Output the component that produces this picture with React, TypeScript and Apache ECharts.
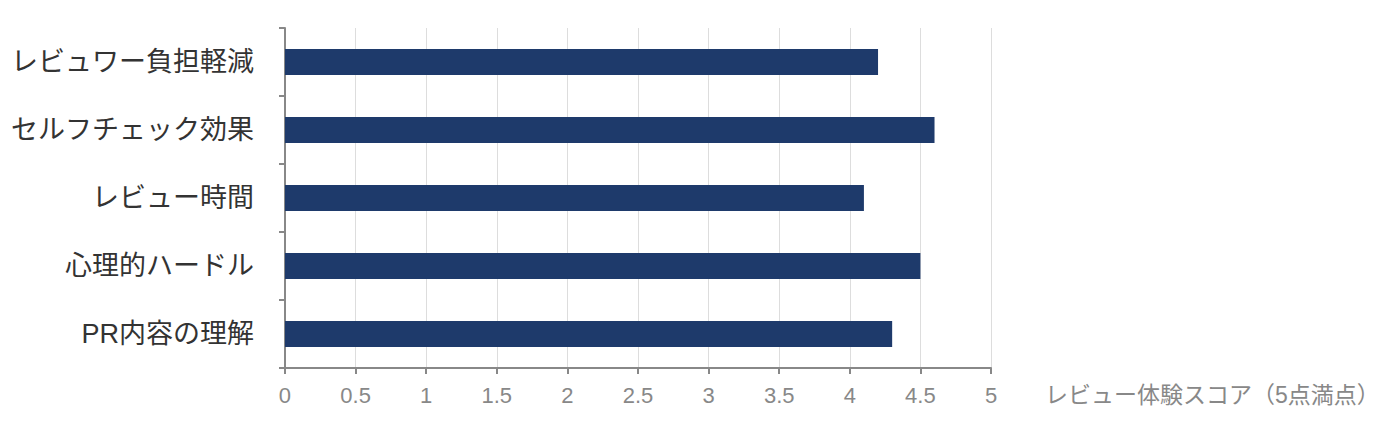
import React, { useEffect, useRef } from "react";
import * as echarts from "echarts";

const categories = ["レビュワー負担軽減", "セルフチェック効果", "レビュー時間", "心理的ハードル", "PR内容の理解"];
const scores = [4.2, 4.6, 4.1, 4.5, 4.3];
const axisName = "レビュー体験スコア（5点満点）";

export default function App() {
  const ref = useRef<HTMLDivElement>(null);
  useEffect(() => {
    const chart = echarts.init(ref.current!, null, { renderer: "svg" });
    chart.setOption({
      animation: false,
      textStyle: { fontFamily: "'Liberation Sans', 'Noto Sans CJK JP', sans-serif" },
      grid: { left: 273, right: 401, top: 20, bottom: 53, containLabel: false },
      xAxis: {
        type: "value",
        min: 0,
        max: 5,
        interval: 0.5,
        name: axisName,
        nameLocation: "end",
        nameGap: 54,
        nameTextStyle: { color: "#888", fontSize: 23, verticalAlign: "top", padding: [15, 0, 0, 0] },
        axisLine: { show: true, lineStyle: { color: "#888", width: 2 } },
        axisTick: { show: true, length: 6, lineStyle: { color: "#888", width: 2 } },
        axisLabel: { color: "#888", fontSize: 22, margin: 16 },
        splitLine: { show: true, lineStyle: { color: "#ddd", width: 1 } },
      },
      yAxis: {
        type: "category",
        data: categories,
        inverse: true,
        axisLine: { show: true, lineStyle: { color: "#888", width: 2 } },
        axisTick: { show: true, length: 6, lineStyle: { color: "#888", width: 2 } },
        axisLabel: { color: "#333", fontSize: 27, margin: 31 },
        splitLine: { show: false },
      },
      series: [
        {
          type: "bar",
          data: scores,
          barWidth: 26,
          itemStyle: { color: "#1e3a6b" },
        },
      ],
    });
    return () => chart.dispose();
  }, []);
  return <div ref={ref} style={{ width: 1384, height: 413 }} />;
}
